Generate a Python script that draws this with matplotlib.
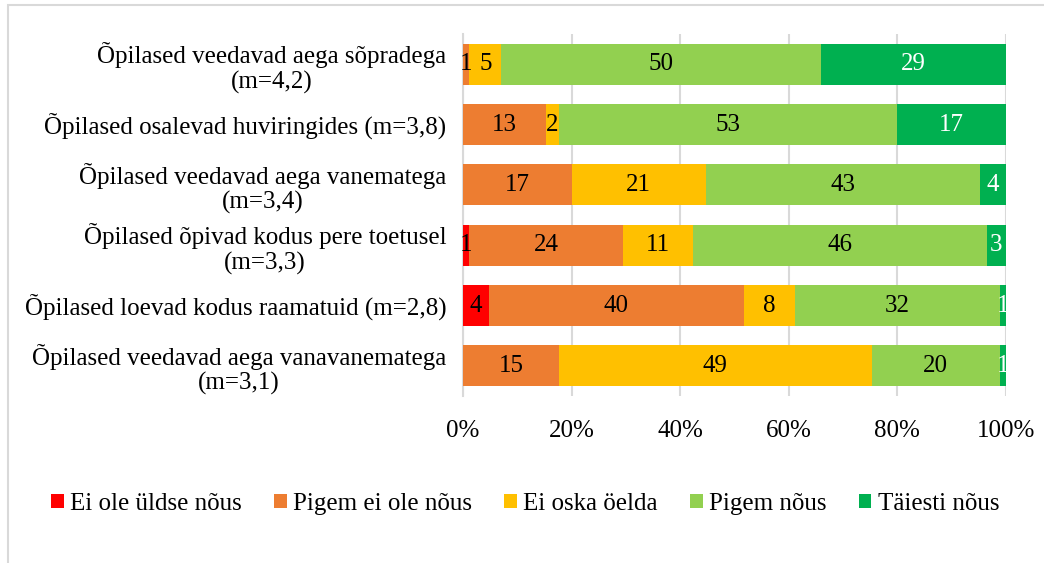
import matplotlib.pyplot as plt
from matplotlib.patches import Rectangle
import numpy as np

plt.rcParams['font.family'] = ['Liberation Serif', 'DejaVu Serif']

# andmed (ülevalt alla)
kategooriad = [
    "Õpilased veedavad aega sõpradega\n(m=4,2)",
    "Õpilased osalevad huviringides (m=3,8)",
    "Õpilased veedavad aega vanematega\n(m=3,4)",
    "Õpilased õpivad kodus pere toetusel\n(m=3,3)",
    "Õpilased loevad kodus raamatuid (m=2,8)",
    "Õpilased veedavad aega vanavanematega\n(m=3,1)",
]
ei_ole_uldse = [0, 0, 0, 1, 4, 0]
pigem_ei_ole = [1, 13, 17, 24, 40, 15]
ei_oska = [5, 2, 21, 11, 8, 49]
pigem_nous = [50, 53, 43, 46, 32, 20]
taiesti_nous = [29, 17, 4, 3, 1, 1]

seeriad = ["Ei ole üldse nõus", "Pigem ei ole nõus", "Ei oska öelda", "Pigem nõus", "Täiesti nõus"]
varvid = ["#FF0000", "#ED7D31", "#FFC000", "#92D050", "#00B050"]
teksti_varvid = ["black", "black", "black", "black", "white"]

andmed = np.array([ei_ole_uldse, pigem_ei_ole, ei_oska, pigem_nous, taiesti_nous], dtype=float)
summa = andmed.sum(axis=0)
protsent = andmed / summa * 100

fs = 18
fig = plt.figure(figsize=(10.44, 5.63), dpi=100)
ax = fig.add_axes([0.4435, 0.2966, 0.52, 0.643])

# raam ümber joonise
fig.patches.append(Rectangle((8 / 1044, -0.05), 1.1, 1 - 5 / 563 + 0.05, transform=fig.transFigure,
                             fill=False, edgecolor="#D9D9D9", linewidth=1.5))

y = np.arange(len(kategooriad))
vasak = np.zeros(len(kategooriad))
for i in range(len(seeriad)):
    ax.barh(y, protsent[i], left=vasak, height=0.68, color=varvid[i], label=seeriad[i], zorder=3)
    for j in range(len(kategooriad)):
        if andmed[i][j] > 0:
            ax.text(vasak[j] + protsent[i][j] / 2, y[j], str(int(andmed[i][j])),
                    ha="center", va="center", fontsize=fs, color=teksti_varvid[i], zorder=4)
    vasak += protsent[i]

ax.set_ylim(len(kategooriad) - 0.5, -0.5)
ax.set_xlim(0, 100)
ax.set_yticks(y)
ax.set_yticklabels(kategooriad, fontsize=fs, multialignment="center", linespacing=1.12)
ax.set_xticks(np.arange(0, 101, 20))
ax.set_xticklabels([f"{v}%" for v in range(0, 101, 20)], fontsize=fs)
ax.tick_params(axis="both", length=0)
ax.tick_params(axis="x", pad=17)
ax.tick_params(axis="y", pad=12)
ax.grid(axis="x", color="#D9D9D9", linewidth=1.5, zorder=0)
for s in ["top", "right", "bottom"]:
    ax.spines[s].set_visible(False)
ax.spines["left"].set_color("#D9D9D9")
ax.spines["left"].set_linewidth(1.5)

fig.legend(loc="center", bbox_to_anchor=(0.503, 0.105), ncol=5, frameon=False, fontsize=18,
           handlelength=0.5, handleheight=0.5, handletextpad=0.25, columnspacing=1.3)

fig.savefig("out.png", dpi=100)
